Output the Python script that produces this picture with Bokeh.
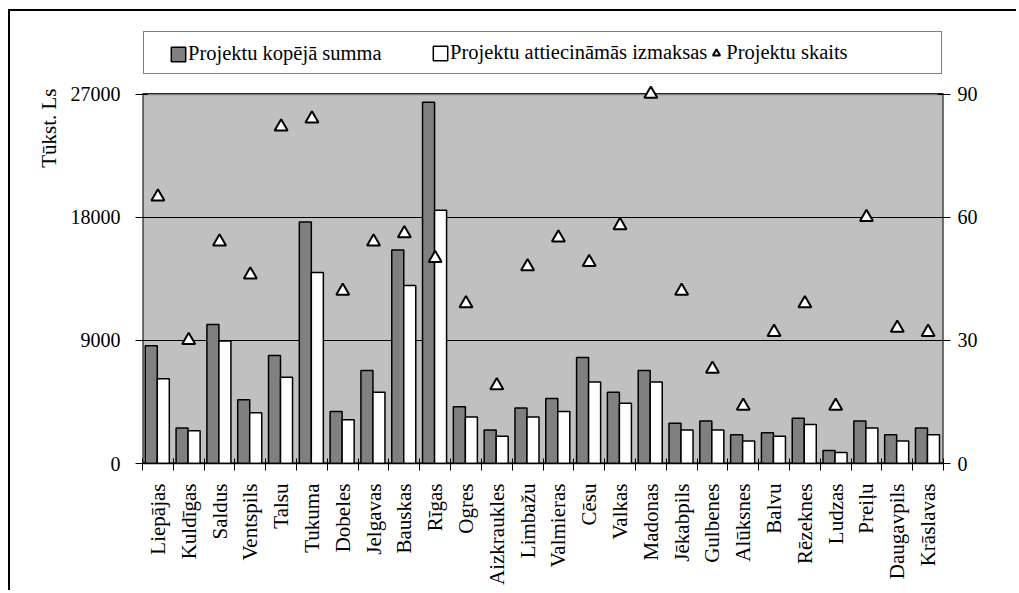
import math
from bokeh.plotting import figure
from bokeh.models import (ColumnDataSource, Range1d, LinearAxis, FixedTicker,
                          Legend, LegendItem, Title, Grid)
from bokeh.transform import dodge
from bokeh.embed import file_html
from bokeh.resources import INLINE

categories = ["Liepājas", "Kuldīgas", "Saldus", "Ventspils", "Talsu", "Tukuma",
              "Dobeles", "Jelgavas", "Bauskas", "Rīgas", "Ogres", "Aizkraukles",
              "Limbažu", "Valmieras", "Cēsu", "Valkas", "Madonas", "Jēkabpils",
              "Gulbenes", "Alūksnes", "Balvu", "Rēzeknes", "Ludzas", "Preiļu",
              "Daugavpils", "Krāslavas"]
total_sum = [8600, 2600, 10150, 4650, 7900, 17650, 3800, 6800, 15600, 26400,
             4150, 2450, 4050, 4750, 7750, 5200, 6800, 2950, 3100, 2100,
             2250, 3300, 950, 3100, 2100, 2600]
eligible_costs = [6200, 2400, 8950, 3700, 6300, 13950, 3200, 5200, 13000, 18500,
                  3400, 2000, 3400, 3800, 5950, 4400, 5950, 2450, 2450, 1650,
                  2000, 2850, 800, 2600, 1650, 2100]
project_count = [65, 30, 54, 46, 82, 84, 42, 54, 56, 50, 39, 19, 48, 55, 49, 58,
                 90, 42, 23, 14, 32, 39, 14, 60, 33, 32]
left_ticks = [0, 9000, 18000, 27000]
right_ticks = [0, 30, 60, 90]
series_names = ["Projektu kopējā summa", "Projektu attiecināmās izmaksas", "Projektu skaits"]
y_label = "Tūkst. Ls"

FONT = "Liberation Serif"
GRAY_BG = "#c0c0c0"
n = len(categories)
idx = list(range(n))
src = ColumnDataSource(dict(x=idx, total=total_sum, elig=eligible_costs, cnt=project_count))

# The frame is taller than the plotting area so the legend (drawn in the frame) fits
# above it; the plotting area itself covers 369.5 of the 441 frame pixels.
FRAME_H = 441
AREA_H = 369.5
stretch = FRAME_H / AREA_H

p = figure(width=1008, height=581, x_range=Range1d(-0.5, n - 0.5),
           y_range=Range1d(left_ticks[0], left_ticks[-1] * stretch), output_backend="svg",
           toolbar_location=None, title=None,
           min_border_left=132, min_border_right=75, min_border_top=11, min_border_bottom=129,
           background_fill_color="white", border_fill_color="white",
           outline_line_color=None)
p.styles = {"border-top": "2px solid black", "border-left": "2px solid black",
            "margin-left": "8px", "margin-top": "9px"}
p.extra_y_ranges = {"right": Range1d(right_ticks[0], right_ticks[-1] * stretch)}

# grey plotting area (from the first to the last category, zero to the top tick)
p.quad(left=[idx[0] - 0.5], right=[idx[-1] + 0.5], bottom=[left_ticks[0]], top=[left_ticks[-1]],
       fill_color=GRAY_BG, line_color="black", line_width=2, level="image")

# grid
p.xgrid.visible = False
p.ygrid.ticker = FixedTicker(ticks=left_ticks[1:-1])
p.ygrid.grid_line_color = "black"
p.ygrid.grid_line_width = 1
p.add_layout(Grid(dimension=1, ticker=FixedTicker(ticks=[left_ticks[-1]]),
                  grid_line_color="#808080", grid_line_width=1.5))

# bars and markers
r1 = p.vbar(x=dodge("x", -0.215), top="total", width=0.39, source=src,
            fill_color="#808080", line_color="black", line_width=1.5)
r2 = p.vbar(x=dodge("x", 0.175), top="elig", width=0.39, source=src,
            fill_color="white", line_color="black", line_width=1.5)
r3 = p.scatter(x="x", y="cnt", y_range_name="right", marker="triangle", size=13,
               fill_color="white", line_color="black", line_width=2, source=src)

# left axis
ya = p.yaxis[0]
ya.ticker = FixedTicker(ticks=left_ticks)
ya.major_tick_in = 5
ya.major_tick_out = 7
ya.minor_tick_line_color = None
ya.major_label_standoff = 15
ya.major_label_text_font = FONT
ya.major_label_text_font_size = "20px"
ya.major_label_text_color = "black"
ya.axis_line_color = None
ya.major_tick_line_color = "black"

# right axis
ra = LinearAxis(y_range_name="right", ticker=FixedTicker(ticks=right_ticks))
ra.major_tick_in = 6
ra.major_tick_out = 7
ra.minor_tick_line_color = None
ra.major_label_standoff = 7
ra.major_label_text_font = FONT
ra.major_label_text_font_size = "20px"
ra.major_label_text_color = "black"
ra.axis_line_color = None
p.add_layout(ra, "right")

# bottom axis: labels at category centres, ticks at boundaries
xa = p.xaxis[0]
xa.ticker = FixedTicker(ticks=idx, minor_ticks=[i - 0.5 for i in range(n + 1)])
xa.major_label_overrides = {i: c for i, c in zip(idx, categories)}
xa.major_label_orientation = math.pi / 2
xa.major_tick_line_color = None
xa.major_tick_in = 0
xa.major_tick_out = 7
xa.minor_tick_in = 5
xa.minor_tick_out = 7
xa.minor_tick_line_color = "black"
xa.major_label_standoff = 13
xa.major_label_text_font = FONT
xa.major_label_text_font_size = "21px"
xa.major_label_text_color = "black"
xa.axis_line_color = "black"
xa.axis_line_width = 1.5

# y axis title, near the top of the left side
p.add_layout(Title(text=y_label, align="right", text_font=FONT, text_font_size="21px",
                   text_font_style="normal", text_color="black", standoff=13, offset=66),
             "left")

# legend: framed box (items 2 and 3) plus a frameless legend for item 1 laid on it
common = dict(orientation="horizontal", margin=0, glyph_width=18,
              glyph_height=18, label_standoff=1, label_text_font=FONT,
              label_text_font_size="20.5px", label_text_color="black")
legend_box = Legend(items=[LegendItem(label=series_names[1], renderers=[r2]),
                           LegendItem(label=series_names[2], renderers=[r3])],
                    location=(1, 389), spacing=0, padding=9, label_width=206,
                    title=" ", title_location="left", title_text_font_size="1px",
                    title_standoff=277,
                    border_line_color="black", border_line_width=1.5,
                    background_fill_color="white", background_fill_alpha=1.0, **common)
legend_first = Legend(items=[LegendItem(label=series_names[0], renderers=[r1])],
                      location=(27, 398), spacing=0, padding=0,
                      border_line_color=None, background_fill_alpha=0.0, **common)
p.add_layout(legend_box)
p.add_layout(legend_first)

open("out.html", "w").write(file_html(p, INLINE))
